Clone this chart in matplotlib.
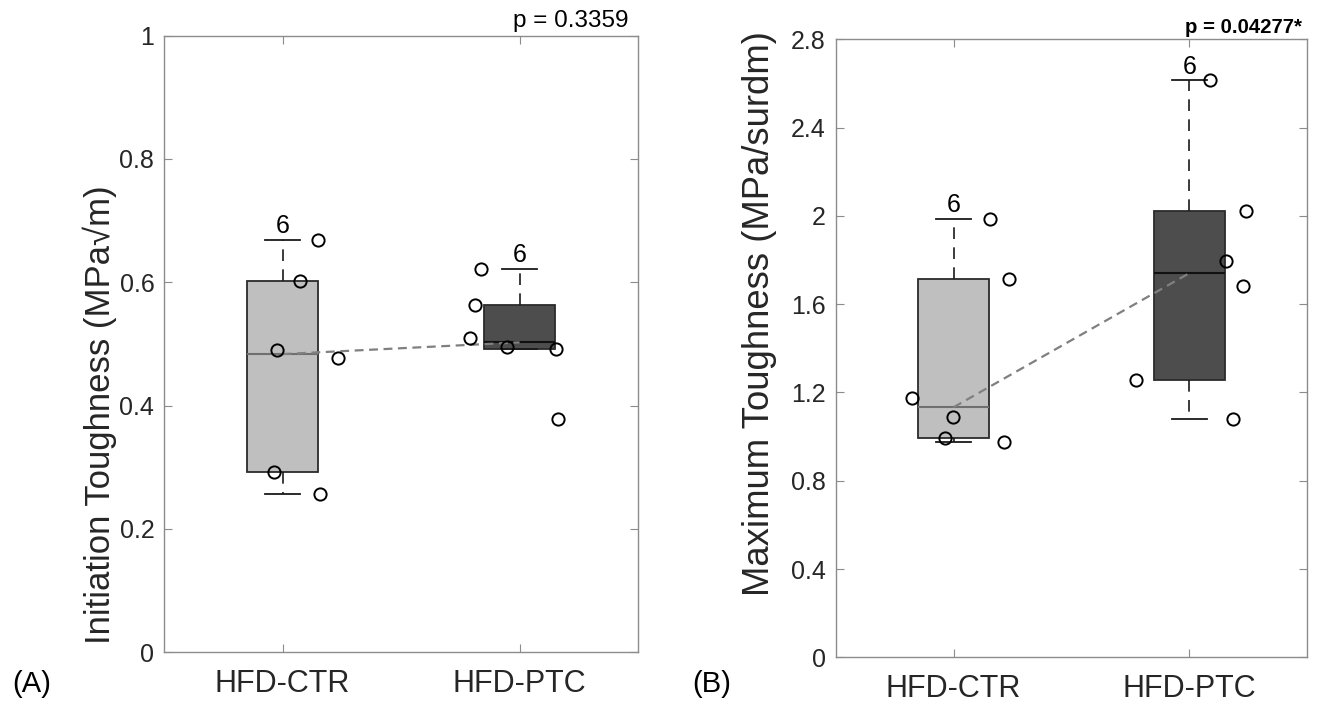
import numpy as np
import matplotlib
matplotlib.use("Agg")
import matplotlib.pyplot as plt
from matplotlib.ticker import FormatStrFormatter

plt.rcParams['font.family'] = ['Liberation Sans', 'DejaVu Sans']

groups = ["HFD-CTR", "HFD-PTC"]

# Initiation toughness (MPa*sqrt(m)), six specimens per group
init_ctr = [0.669, 0.602, 0.490, 0.477, 0.292, 0.257]
init_ptc = [0.622, 0.563, 0.510, 0.495, 0.492, 0.379]
# horizontal scatter offsets of the individual points
init_ctr_jit = [0.149, 0.073, -0.024, 0.234, -0.036, 0.159]
init_ptc_jit = [-0.164, -0.186, -0.208, -0.053, 0.154, 0.164]

# Maximum toughness (MPa*sqrt(m)), six specimens per group
max_ctr = [1.987, 1.713, 1.176, 1.090, 0.992, 0.977]
max_ptc = [2.616, 2.021, 1.797, 1.684, 1.256, 1.080]
max_ctr_jit = [0.154, 0.233, -0.178, -0.003, -0.036, 0.212]
max_ptc_jit = [0.087, 0.241, 0.157, 0.228, -0.225, 0.186]

p_init = "p = 0.3359"
p_max = "p = 0.04277*"

init_ticks = [0, 0.2, 0.4, 0.6, 0.8, 1.0]
max_ticks = [0, 0.4, 0.8, 1.2, 1.6, 2.0, 2.4, 2.8]

fills = ["#bfbfbf", "#4d4d4d"]
medcols = ["#6f6f6f", "#111111"]
spine_col = "#8c8c8c"
text_col = "#262626"


def box_stats(values):
    v = np.asarray(values, dtype=float)
    q1, med, q3 = np.percentile(v, [25, 50, 75], method="hazen")
    iqr = q3 - q1
    lo_f, hi_f = q1 - 1.5 * iqr, q3 + 1.5 * iqr
    inside = v[(v >= lo_f) & (v <= hi_f)]
    return dict(med=med, q1=q1, q3=q3, whislo=inside.min(),
                whishi=inside.max(), fliers=[])


def panel(ax, data, jitters, ticks, ylim, ylabel, label_size, label_xy,
          ptext, pbold, psize, pxy):
    stats = [box_stats(d) for d in data]
    pos = [1, 2]
    arts = ax.bxp(stats, positions=pos, widths=0.3, capwidths=0.15,
                  patch_artist=True, showfliers=False,
                  boxprops=dict(edgecolor="#2b2b2b", linewidth=1.3),
                  whiskerprops=dict(color="#1a1a1a", linewidth=1.2,
                                    linestyle=(0, (7, 5))),
                  capprops=dict(color="#1a1a1a", linewidth=1.3),
                  medianprops=dict(linewidth=1.5), zorder=2)
    for patch, fc in zip(arts["boxes"], fills):
        patch.set_facecolor(fc)
    for med, mc in zip(arts["medians"], medcols):
        med.set_color(mc)

    # dashed trend line between the group medians
    ax.plot(pos, [s["med"] for s in stats], color="#808080", lw=1.6,
            linestyle=(0, (4, 2.5)), zorder=3)

    for p, d, j in zip(pos, data, jitters):
        ax.plot(np.asarray(j) + p, d, linestyle="none", marker="o",
                ms=8.8, mfc="none", mec="black", mew=1.4, zorder=4)

    for p, s, d in zip(pos, stats, data):
        ax.annotate(str(len(d)), (p, s["whishi"]), xytext=(0, 1),
                    textcoords="offset points", ha="center", va="bottom",
                    fontsize=18, color="black", zorder=5)

    ax.set_xlim(0.5, 2.5)
    ax.set_ylim(*ylim)
    ax.set_xticks(pos)
    ax.set_xticklabels(groups)
    ax.set_yticks(ticks)
    ax.yaxis.set_major_formatter(FormatStrFormatter("%g"))
    ax.tick_params(axis="x", direction="in", length=6, width=0.8,
                   labelsize=22, pad=12, colors=spine_col,
                   labelcolor=text_col, top=True)
    ax.tick_params(axis="y", direction="in", length=6, width=0.8,
                   labelsize=18, pad=7, colors=spine_col,
                   labelcolor=text_col, right=True)
    for sp in ax.spines.values():
        sp.set_color(spine_col)
        sp.set_linewidth(1.0)
    ax.set_ylabel(ylabel, fontsize=label_size, color=text_col)
    ax.yaxis.set_label_coords(*label_xy)
    ax.text(pxy[0], pxy[1], ptext, transform=ax.transAxes, ha="right",
            va="baseline", fontsize=psize, color="black",
            fontweight="bold" if pbold else "normal")


fig = plt.figure(figsize=(13.26, 7.13), dpi=100)
axA = fig.add_axes([0.1237, 0.0851, 0.3575, 0.8651])
axB = fig.add_axes([0.6302, 0.0781, 0.3557, 0.8668])

panel(axA, [init_ctr, init_ptc], [init_ctr_jit, init_ptc_jit], init_ticks,
      (0, 1), "Initiation Toughness (MPa\u221am)", 25, (-0.10, 0.386),
      p_init, False, 17.5, (0.979, 1.014))
panel(axB, [max_ctr, max_ptc], [max_ctr_jit, max_ptc_jit], max_ticks,
      (0, 2.8), "Maximum Toughness (MPa/surdm)", 26.3, (-0.125, 0.557),
      p_max, True, 14.7, (0.989, 1.010))

fig.text(0.0096, 0.029, "(A)", fontsize=21, color="black", va="baseline")
fig.text(0.5224, 0.029, "(B)", fontsize=21, color="black", va="baseline")

fig.savefig("out.png", dpi=100, facecolor="white")
